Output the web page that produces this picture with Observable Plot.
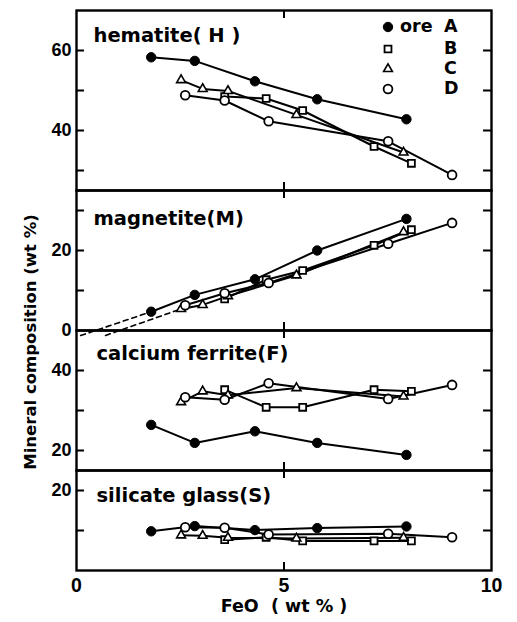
<!DOCTYPE html>
<html>
<head>
<meta charset="utf-8">
<script src="https://cdn.jsdelivr.net/npm/d3@7"></script>
<script src="https://cdn.jsdelivr.net/npm/@observablehq/plot@0.6"></script>
<style>
  body { margin: 0; background: white; }
  #chart { position: relative; width: 517px; height: 622px; background: white; }
  #chart svg.panel { position: absolute; left: 0; }
  .ytitle { position: absolute; font-family: "DejaVu Sans", sans-serif; font-weight: bold; font-size: 16.5px; white-space: nowrap; transform: translate(-50%, -50%) rotate(-90deg); }
  .leg { position: absolute; font-family: "DejaVu Sans", sans-serif; font-weight: bold; font-size: 17.5px; line-height: 1; transform: translateY(-50%); }
</style>
</head>
<body>
<div id="chart"></div>
<script>
// ---- data ----
const ores = ["A", "B", "C", "D"];

// FeO (wt %) of each sample, per ore
const feoA = [1.8, 2.85, 4.3, 5.8, 7.95];
const feoB = [3.57, 4.57, 5.45, 7.17, 8.07];
const feoC = [2.52, 3.04, 3.65, 5.3, 7.88];
const feoD = [2.62, 3.57, 4.63, 7.51, 9.05];

// hematite (H)
const hemA = [58.3, 57.4, 52.3, 47.8, 42.8];
const hemB = [48.5, 48.0, 45.0, 36.0, 31.8];
const hemC = [52.6, 50.4, 49.9, 43.9, 34.5];
const hemD = [48.8, 47.5, 42.3, 37.3, 28.9];

// magnetite (M)
const magA = [4.7, 8.9, 12.8, 20.0, 27.9];
const magB = [7.9, 12.7, 15.0, 21.3, 25.2];
const magC = [5.4, 6.4, 8.6, 13.8, 24.6];
const magD = [6.3, 9.3, 11.9, 21.7, 26.9];

// extrapolated (dashed) magnetite lines
const extrapA_x = [0.1, 1.8];
const extrapA_y = [-1.25, 4.7];
const extrapC_x = [0.7, 2.52];
const extrapC_y = [-1.25, 5.4];

// calcium ferrite (F)
const cafA = [26.4, 21.9, 24.8, 21.9, 18.9];
const cafB = [35.2, 30.8, 30.8, 35.2, 34.8];
const cafC = [32.1, 34.8, 33.8, 35.6, 33.5];
const cafD = [33.3, 32.7, 36.8, 32.9, 36.4];

// silicate glass (S)
const silA = [9.8, 11.1, 10.1, 10.6, 11.0];
const silB = [7.7, 8.3, 7.4, 7.4, 7.4];
const silC = [8.8, 8.7, 8.2, 8.0, 8.2];
const silD = [10.8, 10.7, 9.0, 9.2, 8.3];

const panelNames = ["hematite( H )", "magnetite(M)", "calcium ferrite(F)", "silicate glass(S)"];
const panelDomains = [[25, 70], [0, 35], [15, 50], [0, 25]];
const panelTickLabels = [[40, 60], [0, 20], [20, 40], [20]];
const panelTicks = [[30, 40, 50, 60], [10, 20, 30], [20, 30, 40], [10, 20]];
const xTicks = [0, 5, 10];
const xTitle = "FeO  ( wt % )";
const yTitle = "Mineral composition (wt %)";
const legendPrefix = "ore";

// ---- build tables ----
const feo = {A: feoA, B: feoB, C: feoC, D: feoD};
const panelValues = [
  {A: hemA, B: hemB, C: hemC, D: hemD},
  {A: magA, B: magB, C: magC, D: magD},
  {A: cafA, B: cafB, C: cafC, D: cafD},
  {A: silA, B: silB, C: silC, D: silD}
];
function rows(vals) {
  return ores.flatMap(o => feo[o].map((x, i) => ({ore: o, x, y: vals[o][i]})));
}
const extrap = [
  ...extrapA_x.map((x, i) => ({ore: "A", x, y: extrapA_y[i]})),
  ...extrapC_x.map((x, i) => ({ore: "C", x, y: extrapC_y[i]}))
];

const style = {
  A: {symbol: "circle", fill: "black", r: 4.7, strokeWidth: 1},
  B: {symbol: "square", fill: "white", r: 3.9, strokeWidth: 1.8},
  C: {symbol: "triangle", fill: "white", r: 3.3, strokeWidth: 1.6},
  D: {symbol: "circle", fill: "white", r: 4.4, strokeWidth: 1.8}
};

// layout
const W = 517, mL = 76, mR = 26;
const frameW = W - mL - mR;
const tops = [0, 190, 330, 470];
const heights = [190, 140, 140, 152];
const mTops = [10, 0, 0, 0];
const mBots = [0, 0, 0, 52];
const labelDx = [17, 17, 20, 20];
const labelDy = [18, 21, 16, 18];

const chart = document.getElementById("chart");

panelNames.forEach((name, p) => {
  const data = rows(panelValues[p]);
  const fh = heights[p] - mTops[p] - mBots[p];
  const marks = [
    Plot.frame({stroke: "black", strokeWidth: 2.4}),
    Plot.tickY(panelTicks[p], {y: d => d, insetRight: frameW - 8, strokeWidth: 2}),
    Plot.tickY(panelTicks[p], {y: d => d, insetLeft: frameW - 8, strokeWidth: 2}),
    Plot.tickX([5], {x: d => d, insetBottom: fh - 8, strokeWidth: 2}),
    Plot.tickX([5], {x: d => d, insetTop: fh - 8, strokeWidth: 2}),
    Plot.axisY(panelTickLabels[p], {tickSize: 0, tickPadding: 5, label: null,
      fontSize: 18, fontWeight: "bold", fontFamily: "Liberation Sans, sans-serif"}),
    Plot.text([name], {frameAnchor: "top-left", dx: labelDx[p], dy: labelDy[p], textAnchor: "start",
      fontSize: 19.5, fontWeight: "bold", fontFamily: "DejaVu Sans, sans-serif"})
  ];
  if (p === 1) {
    marks.push(Plot.line(extrap, {x: "x", y: "y", z: "ore", stroke: "black", strokeWidth: 1.6,
      strokeDasharray: "5,4", clip: false}));
  }
  ores.forEach(o => {
    marks.push(Plot.line(data.filter(d => d.ore === o), {x: "x", y: "y", stroke: "black", strokeWidth: 2}));
  });
  ores.forEach(o => {
    const s = style[o];
    marks.push(Plot.dot(data.filter(d => d.ore === o), {x: "x", y: "y", symbol: s.symbol, r: s.r,
      fill: s.fill, stroke: "black", strokeWidth: s.strokeWidth}));
  });
  if (p === 3) {
    marks.push(Plot.axisX(xTicks, {tickSize: 0, tickPadding: 8, label: null,
      fontSize: 19.5, fontWeight: "bold", fontFamily: "Liberation Sans, sans-serif"}));
    marks.push(Plot.text([xTitle], {frameAnchor: "bottom", dy: 41, fontSize: 17.5, fontWeight: "bold",
      fontFamily: "DejaVu Sans, sans-serif"}));
  }
  const svg = Plot.plot({
    width: W,
    height: heights[p],
    marginLeft: mL,
    marginRight: mR,
    marginTop: mTops[p],
    marginBottom: mBots[p],
    x: {domain: [0, 10], axis: null},
    y: {domain: panelDomains[p], axis: null},
    style: {background: "transparent", overflow: "visible", color: "black"},
    marks
  });
  svg.classList.add("panel");
  svg.style.top = tops[p] + "px";
  svg.style.position = "absolute";
  chart.appendChild(svg);
});

// y-axis title
const yt = document.createElement("div");
yt.className = "ytitle";
yt.textContent = yTitle;
yt.style.left = "30px";
yt.style.top = "342px";
chart.appendChild(yt);

// legend (HTML, over the hematite panel)
const legRowY = [27, 49, 69, 89];
ores.forEach((o, i) => {
  const s = style[o];
  const sym = document.createElementNS("http://www.w3.org/2000/svg", "svg");
  sym.setAttribute("width", 14); sym.setAttribute("height", 14);
  sym.style.position = "absolute";
  sym.style.left = (388 - 7) + "px";
  sym.style.top = (legRowY[i] - 7) + "px";
  const path = document.createElementNS("http://www.w3.org/2000/svg", "path");
  const symType = {circle: d3.symbolCircle, square: d3.symbolSquare, triangle: d3.symbolTriangle}[s.symbol];
  path.setAttribute("d", d3.symbol(symType, Math.PI * s.r * s.r)());
  path.setAttribute("transform", "translate(7,7)");
  path.setAttribute("fill", s.fill);
  path.setAttribute("stroke", "black");
  path.setAttribute("stroke-width", s.strokeWidth);
  sym.appendChild(path);
  chart.appendChild(sym);
  if (i === 0) {
    const t = document.createElement("div");
    t.className = "leg"; t.textContent = legendPrefix;
    t.style.left = "400px"; t.style.top = legRowY[i] + "px";
    chart.appendChild(t);
  }
  const l = document.createElement("div");
  l.className = "leg"; l.textContent = o;
  l.style.left = "444px"; l.style.top = legRowY[i] + "px";
  chart.appendChild(l);
});
</script>
</body>
</html>
